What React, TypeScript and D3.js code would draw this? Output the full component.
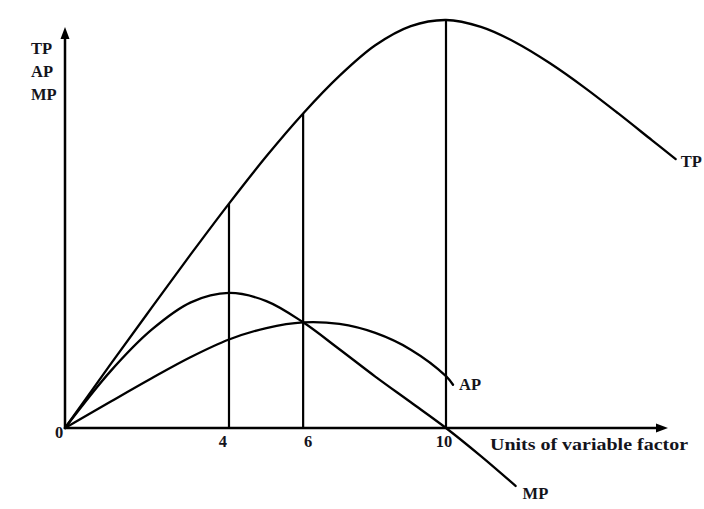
import React from "react";
import * as d3 from "d3";

// Short-run production: total, average and marginal product of a variable factor.
const tpUnits = [0, 1, 2, 3, 4, 5, 6, 7, 8, 9, 10, 11, 12, 13, 14, 15, 16, 16.7];
const tpValues = [0, 15.7, 29.5, 42.6, 55.0, 66.6, 77.1, 86.3, 93.8, 98.5, 100, 98.3, 94.5, 89.4, 83.5, 77.1, 70.5, 65.9];

const apUnits = [0, 1, 2, 3, 4, 5, 6, 7, 8, 9, 10, 10.2];
const apValues = [0, 6.5, 12.2, 17.4, 21.7, 24.5, 25.9, 25.5, 23.3, 19.2, 12.7, 10.6];

const mpUnits = [0, 1, 2, 3, 4, 5, 6, 7, 8, 9, 10, 11, 12];
const mpValues = [0, 14.0, 24.1, 30.8, 33.1, 31.1, 25.9, 19.3, 12.6, 6.3, 0, -6.9, -14.2];

const xTicks = [4, 6, 10];
const guideUnits = [4, 6, 10];
const yAxisLabels = ["TP", "AP", "MP"];
const xAxisTitle = "Units of variable factor";

const W = 704;
const H = 509;
const FONT = "'Liberation Serif', 'Times New Roman', serif";
// hand-set horizontal offsets of the tick numerals from their guide lines
const TICK_LABEL_DX = [-6, 5, -2];

export default function App() {
  // Unit spacing narrows gently along the axis, so x uses a mild power scale.
  const x = d3.scalePow().exponent(0.92).domain([0, 10]).range([65, 446]);
  const y = d3.scaleLinear().domain([0, 100]).range([428, 20]);

  const line = d3
    .line<[number, number]>()
    .x((d) => x(d[0]))
    .y((d) => y(d[1]))
    .curve(d3.curveCatmullRom.alpha(0.5));

  const tp = d3.zip(tpUnits, tpValues) as [number, number][];
  const ap = d3.zip(apUnits, apValues) as [number, number][];
  const mp = d3.zip(mpUnits, mpValues) as [number, number][];

  const tpAt = (u: number) => tpValues[tpUnits.indexOf(u)];

  const x0 = x(0);
  const y0 = y(0);
  const xEnd = 668;
  const yTop = 27;
  const ah = 12;
  const aw = 4.5;

  const apEnd = ap[ap.length - 1];
  const mpEnd = mp[mp.length - 1];
  const tpEnd = tp[tp.length - 1];

  const textStyle: React.CSSProperties = {
    fontFamily: FONT,
    fontWeight: 700,
    fontSize: 16.5,
    fill: "#14141c",
  };

  return (
    <svg
      width={W}
      height={H}
      viewBox={`0 0 ${W} ${H}`}
      style={{ position: "absolute", left: 0, top: 0, background: "#fff" }}
    >
      <rect width={W} height={H} fill="#fff" />

      {/* axes */}
      <line x1={x0} y1={y0} x2={xEnd - ah + 1} y2={y0} stroke="#000" strokeWidth={2.5} />
      <line x1={x0} y1={y0 + 1} x2={x0} y2={yTop + ah - 1} stroke="#000" strokeWidth={2.5} />
      <path d={`M${xEnd},${y0} L${xEnd - ah},${y0 - aw} L${xEnd - ah},${y0 + aw} Z`} fill="#000" />
      <path d={`M${x0},${yTop} L${x0 - aw},${yTop + ah} L${x0 + aw},${yTop + ah} Z`} fill="#000" />

      {/* guide lines up to total product */}
      {guideUnits.map((u) => (
        <line
          key={u}
          x1={x(u)}
          y1={y0}
          x2={x(u)}
          y2={y(tpAt(u))}
          stroke="#000"
          strokeWidth={2.2}
        />
      ))}

      {/* curves */}
      {[tp, ap, mp].map((d, i) => (
        <path
          key={i}
          d={line(d) || ""}
          fill="none"
          stroke="#000"
          strokeWidth={2.3}
          strokeLinecap="round"
        />
      ))}

      {/* vertical axis label stack */}
      {yAxisLabels.map((t, i) => (
        <text key={t} x={31} y={54 + i * 23} style={textStyle}>
          {t}
        </text>
      ))}

      {/* origin and tick labels */}
      <text x={x0 - 6} y={y0 + 10} textAnchor="middle" style={textStyle}>
        0
      </text>
      {xTicks.map((t, i) => (
        <text
          key={t}
          x={x(t) + TICK_LABEL_DX[i]}
          y={y0 + 19}
          textAnchor="middle"
          style={textStyle}
        >
          {t}
        </text>
      ))}

      <text
        x={490}
        y={y0 + 22}
        textLength={198}
        lengthAdjust="spacingAndGlyphs"
        style={textStyle}
      >
        {xAxisTitle}
      </text>

      {/* curve labels */}
      <text x={x(tpEnd[0]) + 5} y={y(tpEnd[1]) + 8} style={textStyle}>
        TP
      </text>
      <text x={x(apEnd[0]) + 6} y={y(apEnd[1]) + 5} style={textStyle}>
        AP
      </text>
      <text x={x(mpEnd[0]) + 7} y={y(mpEnd[1]) + 13} style={textStyle}>
        MP
      </text>
    </svg>
  );
}
